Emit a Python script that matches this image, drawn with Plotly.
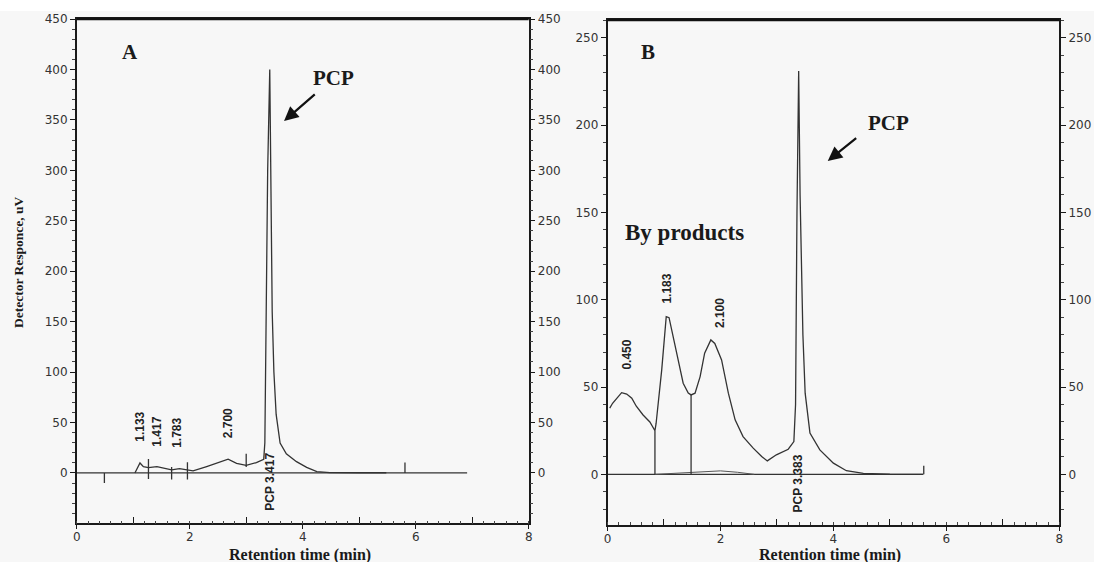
import plotly.graph_objects as go

# ---------------- Panel A data ----------------
a_time = [1.03, 1.12, 1.18, 1.27, 1.42, 1.56, 1.68, 1.82, 1.95, 2.06, 2.30, 2.54, 2.68, 2.83,
          3.00, 3.18, 3.31, 3.33, 3.35, 3.38, 3.417, 3.44, 3.46, 3.49, 3.53, 3.60, 3.71, 3.89,
          4.07, 4.25, 4.48, 5.00, 5.48]
a_signal = [0, 9.9, 6.2, 5.3, 6.3, 4.3, 3.0, 4.3, 3.0, 2.0, 6.3, 11.0, 13.6, 9.6,
            7.6, 10.3, 13.6, 30, 150, 300, 400, 300, 160, 100, 58, 29.7, 19.0, 11.2,
            5.6, 1.3, 0.3, 0.2, 0.2]
a_base_time = [0, 6.91]
a_mark_time = [0.49, 1.27, 1.68, 1.96, 3.00, 5.81]
a_mark_low = [-10, -6, -6.6, -6.6, 6, 0]
a_mark_high = [0, 13.9, 5.9, 10.6, 19, 10.3]
a_peak_labels = ["1.133", "1.417", "1.783", "2.700", "PCP 3.417"]
a_peak_x = [1.12, 1.42, 1.77, 2.68, 3.42]
a_peak_y = [45.8, 40.8, 39.5, 49.4, -8.8]

# ---------------- Panel B data ----------------
b_time = [0.04, 0.09, 0.25, 0.34, 0.43, 0.51, 0.63, 0.75, 0.84, 0.86, 0.96, 1.04, 1.09, 1.165,
          1.25, 1.34, 1.43, 1.48, 1.55, 1.64, 1.72, 1.83, 1.90, 2.02, 2.14, 2.26, 2.40, 2.58,
          2.73, 2.83, 2.99, 3.20, 3.30, 3.33, 3.355, 3.385, 3.41, 3.43, 3.46, 3.50, 3.585,
          3.76, 4.00, 4.23, 4.53, 5.00, 5.59]
b_signal = [37.9, 40.7, 46.8, 46.0, 43.6, 39.0, 34.0, 30.0, 25.0, 29.0, 59.8, 90.3, 89.7, 78.9,
            65.5, 52.2, 46.5, 45.5, 46.5, 56.0, 69.4, 77.0, 75.0, 65.5, 46.5, 31.2, 21.6, 15.0,
            10.2, 7.7, 11.2, 14.4, 18.8, 40, 150, 231, 160, 120, 80, 46.5, 23.6,
            14.0, 6.4, 2.1, 0.6, 0.1, 0]
b_blank_time = [0.84, 1.1, 1.4, 1.7, 2.0, 2.3, 2.6]
b_blank_signal = [0, 0.5, 1.0, 1.5, 2.0, 1.2, 0]
b_base_time = [0, 5.59]
b_mark_time = [0.84, 1.48, 5.60]
b_mark_low = [0, 0, 0]
b_mark_high = [25, 45.5, 5]
b_peak_labels = ["0.450", "1.183", "2.100", "PCP 3.383"]
b_peak_x = [0.34, 1.06, 1.99, 3.38]
b_peak_y = [68.4, 106.6, 92.3, -5]

A_YRANGE = [-49.9, 450]
B_YRANGE = [-29, 260.2]
X_RANGE = [0, 8]

W, H = 1094, 562
LINE = "#333333"
AXC = "#1a1a1a"
TICKFONT = dict(family="DejaVu Sans", size=12, color="#333333")


def segments(xs, lows, highs):
    sx, sy = [], []
    for x, lo, hi in zip(xs, lows, highs):
        sx += [x, x, None]
        sy += [lo, hi, None]
    return sx, sy


fig = go.Figure()

# Panel A traces
fig.add_trace(go.Scatter(x=a_base_time, y=[0, 0], mode="lines",
                         line=dict(color=LINE, width=1.3), xaxis="x", yaxis="y"))
fig.add_trace(go.Scatter(x=a_time, y=a_signal, mode="lines",
                         line=dict(color=LINE, width=1.3), xaxis="x", yaxis="y"))
mx, my = segments(a_mark_time, a_mark_low, a_mark_high)
fig.add_trace(go.Scatter(x=mx, y=my, mode="lines",
                         line=dict(color=LINE, width=1.3), xaxis="x", yaxis="y"))
# helpers so overlay axes are drawn
fig.add_trace(go.Scatter(x=[None], y=[None], xaxis="x", yaxis="y2"))
fig.add_trace(go.Scatter(x=[None], y=[None], xaxis="x3", yaxis="y"))

# Panel B traces
fig.add_trace(go.Scatter(x=b_base_time, y=[0, 0], mode="lines",
                         line=dict(color=LINE, width=1.3), xaxis="x2", yaxis="y3"))
fig.add_trace(go.Scatter(x=b_blank_time, y=b_blank_signal, mode="lines",
                         line=dict(color="#555555", width=1.0), xaxis="x2", yaxis="y3"))
fig.add_trace(go.Scatter(x=b_time, y=b_signal, mode="lines",
                         line=dict(color=LINE, width=1.3), xaxis="x2", yaxis="y3"))
mx, my = segments(b_mark_time, b_mark_low, b_mark_high)
fig.add_trace(go.Scatter(x=mx, y=my, mode="lines",
                         line=dict(color=LINE, width=1.3), xaxis="x2", yaxis="y3"))
fig.add_trace(go.Scatter(x=[None], y=[None], xaxis="x2", yaxis="y4"))
fig.add_trace(go.Scatter(x=[None], y=[None], xaxis="x4", yaxis="y3"))

A_XDOM = [76.7 / W, 528.7 / W]
B_XDOM = [607.5 / W, 1059.3 / W]
A_YDOM = [1 - 523.3 / H, 1 - 19 / H]
B_YDOM = [1 - 525 / H, 1 - 20 / H]


def xmain(domain, anchor):
    return dict(domain=domain, anchor=anchor, range=X_RANGE, showgrid=False, zeroline=False,
                showline=True, linecolor=AXC, linewidth=1.5, mirror=True,
                ticks="outside", ticklen=4, tickcolor=AXC, tick0=0, dtick=2,
                tickfont=TICKFONT, automargin=False, ticklabelstandoff=-2,
                minor=dict(ticks="inside", dtick=0.2, tick0=0, ticklen=3, tickcolor="#444444"))


def xodd(over, anchor):
    return dict(overlaying=over, anchor=anchor, range=X_RANGE, showgrid=False, zeroline=False,
                showline=False, ticks="inside", ticklen=6, tickcolor=AXC,
                tickvals=[1, 3, 5, 7], showticklabels=False, automargin=False)


def ymain(domain, anchor, rng, side="left", over=None):
    d = dict(anchor=anchor, range=rng, showgrid=False, zeroline=False,
             showline=True, linecolor=AXC, linewidth=1.5, side=side,
             ticks="outside", ticklen=5, tickcolor=AXC, tick0=0, dtick=50,
             tickfont=TICKFONT, automargin=False,
             minor=dict(ticks="outside", dtick=10, tick0=0, ticklen=3, tickcolor="#444444"))
    if over:
        d["overlaying"] = over
    else:
        d["domain"] = domain
    return d


fig.update_layout(
    template="none",
    width=W, height=H,
    margin=dict(l=0, r=0, t=0, b=0),
    paper_bgcolor="#f7f7f7",
    plot_bgcolor="#f7f7f7",
    showlegend=False,
    xaxis=xmain(A_XDOM, "y"),
    xaxis3=xodd("x", "y"),
    yaxis=ymain(A_YDOM, "x", A_YRANGE),
    yaxis2=ymain(A_YDOM, "x", A_YRANGE, side="right", over="y"),
    xaxis2=xmain(B_XDOM, "y3"),
    xaxis4=xodd("x2", "y3"),
    yaxis3=ymain(B_YDOM, "x2", B_YRANGE),
    yaxis4=ymain(B_YDOM, "x2", B_YRANGE, side="right", over="y3"),
)

shapes = [
    dict(type="line", xref="x domain", yref="y domain", x0=0, x1=1, y0=1, y1=1,
         line=dict(color="#111111", width=2.5)),
    dict(type="line", xref="x2 domain", yref="y3 domain", x0=0, x1=1, y0=1, y1=1,
         line=dict(color="#111111", width=2.5)),
    dict(type="rect", xref="paper", yref="paper", x0=0, x1=1, y0=1 - 11 / H, y1=1,
         fillcolor="white", line=dict(width=0), layer="below"),
]
fig.update_layout(shapes=shapes)

ann = []
serif_b = dict(family="Liberation Serif", color="#1a1a1a", weight="bold")
label_font = dict(family="Liberation Sans", size=12, color="#222222", weight="bold")

for t, x, y in zip(a_peak_labels, a_peak_x, a_peak_y):
    ann.append(dict(text=t, x=x, y=y, xref="x", yref="y", showarrow=False, textangle=-90,
                    xanchor="center", yanchor="middle", font=label_font))
for t, x, y in zip(b_peak_labels, b_peak_x, b_peak_y):
    ann.append(dict(text=t, x=x, y=y, xref="x2", yref="y3", showarrow=False, textangle=-90,
                    xanchor="center", yanchor="middle", font=label_font))

# panel letters and notes
ann.append(dict(text="A", x=0.94, y=417.6, xref="x", yref="y", showarrow=False,
                font=dict(serif_b, size=21)))
ann.append(dict(text="B", x=0.72, y=242, xref="x2", yref="y3", showarrow=False,
                font=dict(serif_b, size=21)))
ann.append(dict(text="PCP", x=4.55, y=391.5, xref="x", yref="y", showarrow=False,
                font=dict(serif_b, size=21)))
ann.append(dict(text="PCP", x=4.97, y=201.2, xref="x2", yref="y3", showarrow=False,
                font=dict(serif_b, size=21)))
ann.append(dict(text="By products", x=1.37, y=138.3, xref="x2", yref="y3", showarrow=False,
                font=dict(serif_b, size=23)))
# arrows
ann.append(dict(text="", x=3.67, y=348.9, ax=4.24, ay=376.6, xref="x", yref="y",
                axref="x", ayref="y", showarrow=True, arrowhead=2, arrowsize=1.3,
                arrowwidth=2.2, arrowcolor="#111111"))
ann.append(dict(text="", x=3.90, y=179.5, ax=4.43, ay=193.2, xref="x2", yref="y3",
                axref="x2", ayref="y3", showarrow=True, arrowhead=2, arrowsize=1.3,
                arrowwidth=2.2, arrowcolor="#111111"))
# axis titles
ann.append(dict(text="Detector Responce, uV", x=19 / W, y=1 - 262 / H, xref="paper", yref="paper",
                showarrow=False, textangle=-90, xanchor="center", yanchor="middle",
                font=dict(serif_b, size=13.5)))
ann.append(dict(text="Retention time (min)", x=300 / W, y=1 - 555 / H, xref="paper", yref="paper",
                showarrow=False, xanchor="center", yanchor="middle",
                font=dict(serif_b, size=16)))
ann.append(dict(text="Retention time (min)", x=830 / W, y=1 - 555 / H, xref="paper", yref="paper",
                showarrow=False, xanchor="center", yanchor="middle",
                font=dict(serif_b, size=16)))
fig.update_layout(annotations=ann)

fig.write_html("out.html", config={"displayModeBar": False},
               post_script="document.body.style.margin='0';document.body.style.overflow='hidden';")
